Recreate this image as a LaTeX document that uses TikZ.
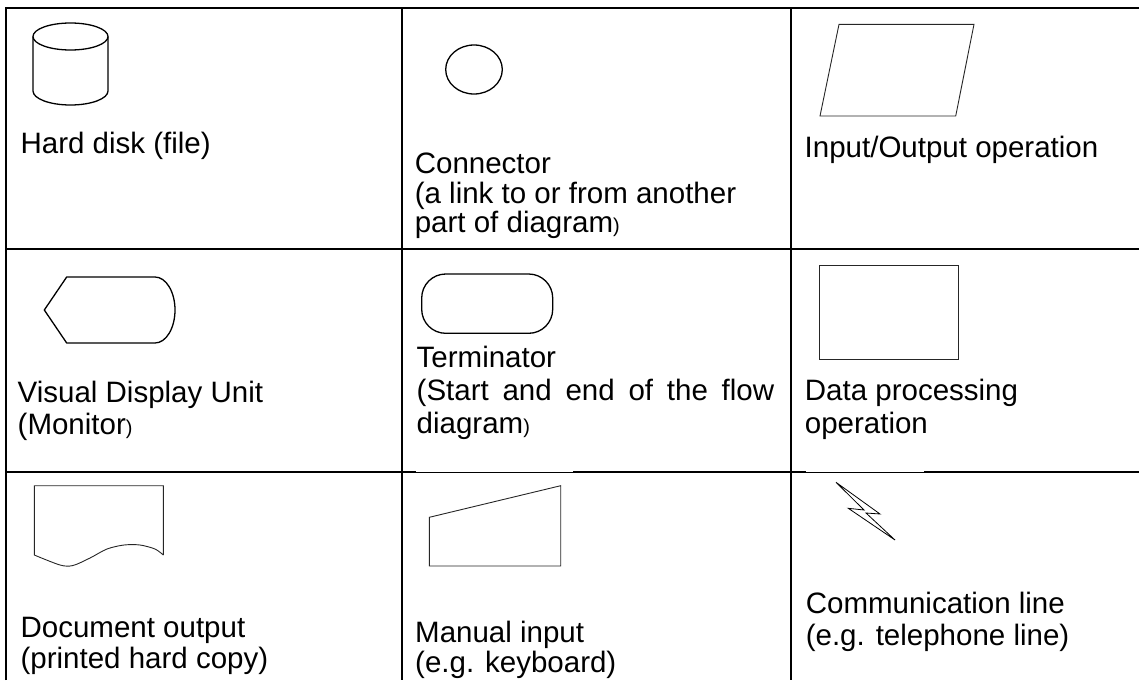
\documentclass[tikz,border=0pt]{standalone}
\usepackage{fontspec}
\setmainfont{Liberation Sans}
\newcommand{\smallparen}{{\fontsize{20}{20}\selectfont )}}
\begin{document}
\begin{tikzpicture}[x=1pt,y=-1pt,
  grid/.style={line width=2.2pt,black},
  shp/.style={line width=1.3pt,black},
  thin shp/.style={line width=0.9pt,black!85},
  lbl/.style={anchor=base west,inner sep=0pt,font=\fontsize{29.5}{33}\selectfont}]
\useasboundingbox (0,0) rectangle (1139,680);
% grid
\draw[grid] (6,680) -- (6,8) -- (1139,8);
\draw[grid] (402,8) -- (402,680);
\draw[grid] (791,8) -- (791,680);
\draw[grid] (6,249) -- (1139,249);
\draw[grid] (6,472) -- (1139,472);
\draw[white,line width=1.0pt] (416,471.1) -- (573,471.1);
\draw[white,line width=1.0pt] (806,471.1) -- (924,471.1);
% cylinder
\draw[shp] (70.5,36.5) ellipse [x radius=37.5,y radius=13.5];
\draw[shp] (33,36.5) -- (33,91) arc[start angle=180,end angle=0,x radius=37.5,y radius=14] -- (108,36.5);
% connector circle
\draw[shp] (474,69.5) ellipse [x radius=28.3,y radius=24.5];
% parallelogram
\draw[thin shp] (839,24.3) -- (974,24.3) -- (955.7,116) -- (820,116) -- cycle;
% VDU
\draw[shp] (155,277) -- (66.7,277) -- (44.3,310) -- (66.7,343) -- (155,343)
  arc[start angle=90,end angle=-90,x radius=20,y radius=33];
% terminator
\draw[shp,rounded corners=24pt] (421.7,274) rectangle (552.7,333.3);
% rectangle
\draw[thin shp] (819,265) rectangle (958.3,359.3);
% document
\draw[thin shp] (163.3,555) -- (163.3,485.7) -- (34.3,485.7) -- plot[smooth,tension=0.5] coordinates {(34.3,555) (60,565) (73,565.5) (90,558) (107,549) (124,545) (140,545) (155,549) (163.3,555)};
% manual input
\draw[thin shp] (429.3,566) -- (429.3,517.3) -- (560.7,485.7) -- (560.7,566) -- cycle;
% lightning
\draw[line width=0.8pt,black] (836,482.3) -- (880,514) -- (866,513) -- (895,540) -- (848.3,508.3) -- (864,510) -- cycle;
% labels
\node[lbl] (t1) at (20.4,153) {Hard disk (file)};
\node[lbl] (t2a) at (414.6,173) {Connector};
\node[lbl] (t2b) at (414.6,203) {(a link to or from another};
\node[lbl] (t2c) at (414.6,232) {part of diagram\smallparen};
\node[lbl] (t3) at (804.5,157) {Input/Output operation};
\node[lbl] (t4a) at (17.5,402) {Visual Display Unit};
\node[lbl] (t4b) at (17.5,434) {(Monitor\smallparen};
\node[lbl] (t5a) at (416.5,367) {Terminator};
\node[lbl] (t5b) at (416.5,400) {\hbox to 357.5pt{(Start\hfill and\hfill end\hfill of\hfill the\hfill flow}};
\node[lbl] (t5c) at (416.5,433) {diagram\smallparen};
\node[lbl] (t6a) at (804.7,400) {Data processing};
\node[lbl] (t6b) at (804.7,433) {operation};
\node[lbl] (t7a) at (20.4,637) {Document output};
\node[lbl] (t7b) at (20.4,668) {(printed hard copy)};
\node[lbl] (t8a) at (415,642) {Manual input};
\node[lbl] (t8b) at (415,672) {(e.g. keyboard)};
\node[lbl] (t9a) at (805.6,613) {Communication line};
\node[lbl] (t9b) at (805.6,645) {(e.g. telephone line)};
\end{tikzpicture}
\end{document}
